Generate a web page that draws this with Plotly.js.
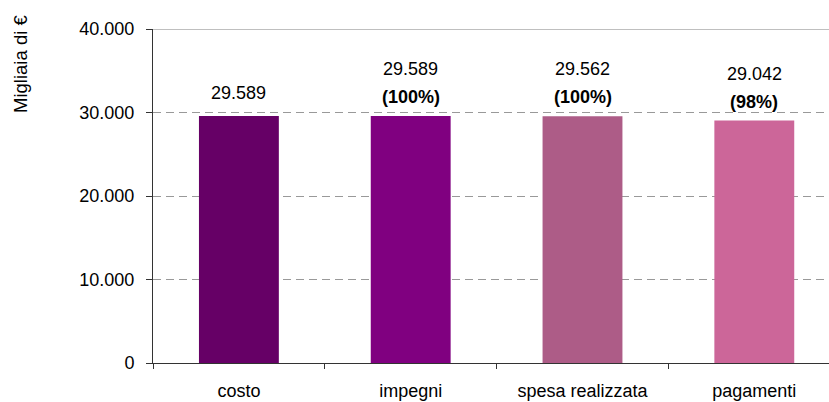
<!DOCTYPE html>
<html>
<head>
<meta charset="utf-8">
<script src="https://cdn.plot.ly/plotly-3.0.1.min.js"></script>
<style>html,body{margin:0;padding:0;background:#fff;}#chart{width:829px;height:402px;}</style>
</head>
<body>
<div id="chart"></div>
<script>
const categories = ['costo', 'impegni', 'spesa realizzata', 'pagamenti'];
const values = [29589, 29589, 29562, 29042];
const valueLabels = ['29.589', '29.589', '29.562', '29.042'];
const percentLabels = ['', '(100%)', '(100%)', '(98%)'];
const yTickVals = [0, 10000, 20000, 30000, 40000];
const yTickText = ['0', '10.000', '20.000', '30.000', '40.000'];
const yTitle = 'Migliaia di €';

const barColors = ['#660066', '#800080', '#AD5C87', '#CC6699'];
const FONT = 'Liberation Sans, Arial, sans-serif';
const FS = 18;

const annotations = [];
categories.forEach((c, i) => {
  const hasPct = percentLabels[i] !== '';
  annotations.push({
    x: c, y: values[i], xref: 'x', yref: 'y',
    text: valueLabels[i], showarrow: false,
    yanchor: 'middle', yshift: hasPct ? 47 : 23,
    font: {family: FONT, size: FS, color: '#000'}
  });
  if (hasPct) {
    annotations.push({
      x: c, y: values[i], xref: 'x', yref: 'y',
      text: '<b>' + percentLabels[i] + '</b>', showarrow: false,
      yanchor: 'middle', yshift: 19,
      font: {family: FONT, size: FS, color: '#000'}
    });
  }
});
annotations.push({
  xref: 'paper', yref: 'paper', x: (21 - 153) / 676, y: (363.5 - 64) / 334.5,
  text: yTitle, textangle: -90, showarrow: false,
  xanchor: 'center', yanchor: 'middle',
  font: {family: FONT, size: 18.5, color: '#000'}
});

const trace = {
  type: 'bar',
  x: categories,
  y: values,
  marker: {color: barColors, line: {width: 0}},
  hoverinfo: 'skip'
};

const layout = {
  width: 829, height: 402,
  margin: {l: 153, r: 0, t: 29, b: 38.5, pad: 0},
  paper_bgcolor: '#fff', plot_bgcolor: '#fff',
  font: {family: FONT, size: FS, color: '#000'},
  showlegend: false,
  bargap: 0.535,
  xaxis: {
    type: 'category',
    range: [-0.5, -0.5 + 676 / 171.8],
    showgrid: false, zeroline: false,
    showline: true, linecolor: '#333', linewidth: 1,
    ticks: 'outside', ticklen: 5, tickcolor: '#333', tickson: 'boundaries',
    ticklabelstandoff: 11,
    tickfont: {family: FONT, size: FS, color: '#000'}
  },
  yaxis: {
    range: [0, 40000],
    tickvals: yTickVals, ticktext: yTickText,
    showgrid: true, gridcolor: '#999', griddash: '8px,5px', gridwidth: 1,
    zeroline: false,
    showline: true, linecolor: '#333', linewidth: 1,
    ticks: 'outside', ticklen: 6, tickcolor: '#333',
    ticklabelstandoff: 8,
    tickfont: {family: FONT, size: FS, color: '#000'}
  },
  shapes: [{
    type: 'line', xref: 'paper', yref: 'y', x0: 0, x1: 1, y0: 40000, y1: 40000,
    line: {color: '#808080', width: 1}
  }],
  annotations: annotations
};

Plotly.newPlot('chart', [trace], layout, {displayModeBar: false, staticPlot: true});
</script>
</body>
</html>
